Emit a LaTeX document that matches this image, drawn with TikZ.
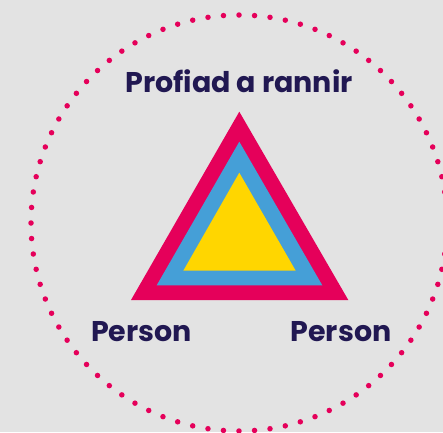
\documentclass[tikz,border=0pt]{standalone}
\usepackage{fontspec}
\setmainfont{Poppins}
\usetikzlibrary{positioning}
\definecolor{bgGrey}{HTML}{E3E3E3}
\definecolor{ringRed}{HTML}{E5005A}
\definecolor{midBlue}{HTML}{459FD7}
\definecolor{coreYellow}{HTML}{FFD600}
\definecolor{labelNavy}{HTML}{211852}
\tikzset{
dotring/.style={
  draw=ringRed,
  line width=5.5pt,
  line cap=round,
  dash pattern=on 0pt off 15.56pt
  },
lbl/.style={
  text=labelNavy,
  font=\fontsize{28.5}{32}\selectfont\bfseries,
  inner sep=0pt,
  anchor=base
  }
}

\begin{document}
\begin{tikzpicture}[x=1pt,y=-1pt]
\fill[bgGrey] (0,0) rectangle (443,432);
\useasboundingbox (0,0) rectangle (443,432);

\coordinate(centre) at (239,223);
\draw[dotring] (centre) circle[radius=208pt];

% triangles, outside in
\coordinate(oTop) at (239.3,111.7);
\coordinate(oLeft) at (131,300);
\coordinate(oRight) at (348.3,300);
\fill[ringRed] (oTop) -- (oLeft) -- (oRight) -- cycle;

\coordinate(bTop) at (239.3,141.7);
\coordinate(bLeft) at (156.7,285.3);
\coordinate(bRight) at (322.3,285.3);
\fill[midBlue] (bTop) -- (bLeft) -- (bRight) -- cycle;

\coordinate(yTop) at (239.3,172.7);
\coordinate(yLeft) at (183.3,270.7);
\coordinate(yRight) at (295.7,270.7);
\fill[coreYellow] (yTop) -- (yLeft) -- (yRight) -- cycle;

\node[lbl] (title) at (239,92.3) {Profiad a rannir};
\node[lbl] (personL) at (141.5,341.5) {Person};
\node[lbl] (personR) at (341,341.5) {Person};
\end{tikzpicture}
\end{document}
